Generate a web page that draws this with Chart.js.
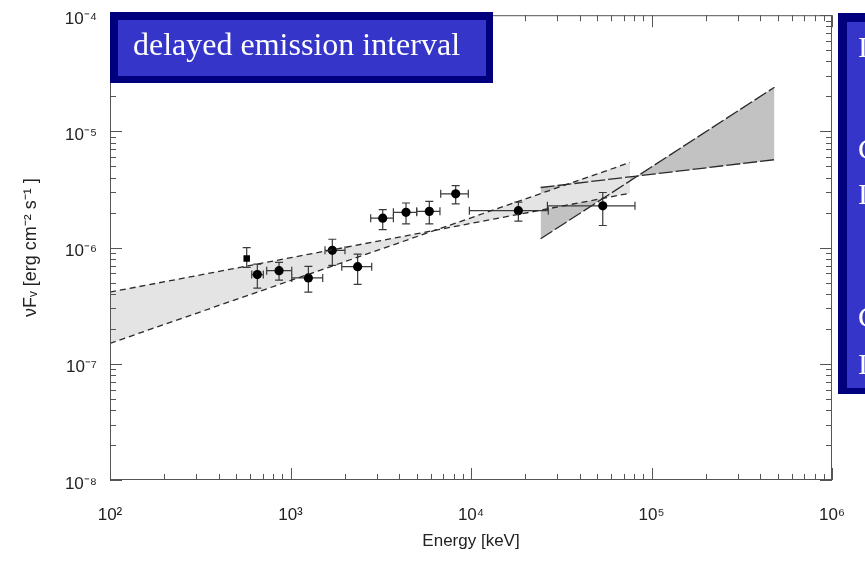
<!DOCTYPE html>
<html><head><meta charset="utf-8">
<script src="https://cdn.jsdelivr.net/npm/chart.js@4.4.0/dist/chart.umd.min.js"></script>
<style>html,body{margin:0;padding:0;background:#fff;overflow:hidden}#wrap{width:865px;height:562px;position:relative}</style>
</head><body><div id="wrap"><canvas id="c" width="865" height="562"></canvas></div>
<script>
// ---- data ----
const energy     = [572, 655, 864, 1256, 1705, 2355, 3243, 4365, 5875, 8225, 18300, 53700];
const energyLow  = [572, 610, 738, 1016, 1553, 1923, 2781, 3715, 5003, 6795, 9794, 26500];
const energyHigh = [572, 707, 1016, 1508, 2004, 2818, 3715, 5003, 6730, 9663, 26800, 81000];
const flux       = [8.05e-7, 5.86e-7, 6.33e-7, 5.48e-7, 9.48e-7, 6.85e-7, 1.79e-6, 2.01e-6, 2.05e-6, 2.90e-6, 2.08e-6, 2.29e-6];
const fluxLow    = [6.76e-7, 4.48e-7, 5.24e-7, 4.14e-7, 7.03e-7, 4.82e-7, 1.43e-6, 1.60e-6, 1.60e-6, 2.38e-6, 1.69e-6, 1.55e-6];
const fluxHigh   = [1.0e-6, 7.21e-7, 7.45e-7, 6.89e-7, 1.18e-6, 8.77e-7, 2.12e-6, 2.42e-6, 2.50e-6, 3.42e-6, 2.46e-6, 2.98e-6];
const pointShapes = ['rect','circle','circle','circle','circle','circle','circle','circle','circle','circle','circle','circle'];

const softBandEnergy = [100, 7.6e4];
const softBandLineA  = [4.14e-7, 2.94e-6];
const softBandLineB  = [1.5e-7, 5.4e-6];
const hardBandEnergy = [2.43e4, 4.8e5];
const hardBandLineA  = [1.19e-6, 2.40e-5];
const hardBandLineB  = [3.29e-6, 5.71e-6];

const xTickValues = [1e2, 1e3, 1e4, 1e5, 1e6];
const xTickLabels = ['10²', '10³', '10⁴', '10⁵', '10⁶'];
const yTickValues = [1e-8, 1e-7, 1e-6, 1e-5, 1e-4];
const yTickLabels = ['10⁻⁸', '10⁻⁷', '10⁻⁶', '10⁻⁵', '10⁻⁴'];
const xTitle = 'Energy [keV]';
const yTitle = 'νFᵥ [erg cm⁻² s⁻¹ ]';
const boxLabel = 'delayed emission interval';
const sideBoxLetters = ['I', 'C', 'I', 'C', 'I'];
const sideBoxBaselines = [57, 159, 204, 327, 374];

// ---- build datasets ----
const toPts = (xs, ys) => xs.map((x, i) => ({x: x, y: ys[i]}));
const datasets = [
  {data: toPts(softBandEnergy, softBandLineA), showLine: true, pointRadius: 0, borderColor: '#2a2a2a', borderWidth: 1.3, borderDash: [6, 4], fill: false},
  {data: toPts(softBandEnergy, softBandLineB), showLine: true, pointRadius: 0, borderColor: '#2a2a2a', borderWidth: 1.3, borderDash: [6, 4], fill: '-1', backgroundColor: '#e4e4e4'},
  {data: toPts(hardBandEnergy, hardBandLineA), showLine: true, pointRadius: 0, borderColor: '#2a2a2a', borderWidth: 1.3, borderDash: [14, 3], fill: false},
  {data: toPts(hardBandEnergy, hardBandLineB), showLine: true, pointRadius: 0, borderColor: '#2a2a2a', borderWidth: 1.3, borderDash: [14, 3], fill: '-1', backgroundColor: '#c2c2c2'},
  {data: toPts(energy, flux), showLine: false, pointStyle: pointShapes, pointRadius: 4.6, pointBackgroundColor: '#000', pointBorderColor: '#000', pointBorderWidth: 0}
];

const errorBars = {
  id: 'errorBars',
  beforeDatasetsDraw(chart) {
    const {ctx, scales: {x, y}} = chart;
    ctx.save();
    ctx.strokeStyle = '#3a3a3a';
    ctx.lineWidth = 1.2;
    const cap = 4;
    energy.forEach((e, i) => {
      const px = x.getPixelForValue(e), py = y.getPixelForValue(flux[i]);
      const yl = y.getPixelForValue(fluxLow[i]), yh = y.getPixelForValue(fluxHigh[i]);
      const xl = x.getPixelForValue(energyLow[i]), xh = x.getPixelForValue(energyHigh[i]);
      ctx.beginPath();
      ctx.moveTo(px, yl); ctx.lineTo(px, yh);
      ctx.moveTo(px - cap, yl); ctx.lineTo(px + cap, yl);
      ctx.moveTo(px - cap, yh); ctx.lineTo(px + cap, yh);
      if (xh - xl > 1) {
        ctx.moveTo(xl, py); ctx.lineTo(xh, py);
        ctx.moveTo(xl, py - cap); ctx.lineTo(xl, py + cap);
        ctx.moveTo(xh, py - cap); ctx.lineTo(xh, py + cap);
      }
      ctx.stroke();
    });
    ctx.restore();
  }
};

const frameAndBoxes = {
  id: 'frameAndBoxes',
  afterDraw(chart) {
    const {ctx, chartArea: a, scales: {x, y}} = chart;
    ctx.save();
    // frame
    ctx.strokeStyle = '#555';
    ctx.lineWidth = 1;
    ctx.strokeRect(a.left + 0.5, a.top + 0.5, a.right - a.left - 1, a.bottom - a.top - 1);
    // inward ticks on all four sides
    ctx.beginPath();
    for (let d = 2; d <= 6; d++) {
      for (let m = 1; m <= 9; m++) {
        const v = m * Math.pow(10, d);
        if (v > 1e6 * 1.0001) continue;
        const px = Math.round(x.getPixelForValue(v)) + 0.5;
        const len = m === 1 ? 12 : 6;
        ctx.moveTo(px, a.bottom); ctx.lineTo(px, a.bottom - len);
        ctx.moveTo(px, a.top); ctx.lineTo(px, a.top + len);
      }
    }
    for (let d = -8; d <= -4; d++) {
      for (let m = 1; m <= 9; m++) {
        const v = m * Math.pow(10, d);
        if (v > 1e-4 * 1.0001) continue;
        const py = Math.round(y.getPixelForValue(v)) + 0.5;
        const len = m === 1 ? 12 : 6;
        ctx.moveTo(a.left, py); ctx.lineTo(a.left + len, py);
        ctx.moveTo(a.right, py); ctx.lineTo(a.right - len, py);
      }
    }
    ctx.stroke();

    // label box (top left)
    ctx.fillStyle = '#00007e';
    ctx.fillRect(110, 12, 383, 71);
    ctx.fillStyle = '#3535c9';
    ctx.fillRect(118, 20, 368, 56);
    ctx.fillStyle = '#ffffff';
    ctx.font = '32px "Liberation Serif", "Times New Roman", serif';
    ctx.textBaseline = 'alphabetic';
    ctx.textAlign = 'left';
    ctx.fillText(boxLabel, 133, 55);

    // side box (cut off at the right edge)
    ctx.fillStyle = '#00007e';
    ctx.fillRect(838, 13, 40, 381);
    ctx.fillStyle = '#3535c9';
    ctx.fillRect(847, 22, 30, 366);
    ctx.fillStyle = '#ffffff';
    ctx.font = '30px "Liberation Serif", "Times New Roman", serif';
    sideBoxLetters.forEach((t, i) => ctx.fillText(t, 858, sideBoxBaselines[i]));
    ctx.restore();
  }
};

const tickFont = {family: '"Liberation Sans", Arial, sans-serif', size: 17};
new Chart(document.getElementById('c'), {
  type: 'scatter',
  data: {datasets: datasets},
  options: {
    responsive: false,
    devicePixelRatio: 1,
    animation: false,
    layout: {padding: {top: 10, right: 33, left: 0, bottom: 0}},
    plugins: {legend: {display: false}, tooltip: {enabled: false}, filler: {drawTime: 'beforeDatasetsDraw'}},
    scales: {
      x: {
        type: 'logarithmic', position: 'bottom', min: 1e2, max: 1e6,
        grid: {display: false}, border: {display: false},
        afterBuildTicks: s => { s.ticks = xTickValues.map(v => ({value: v, major: true})); },
        afterFit: s => { s.height = 82; },
        ticks: {autoSkip: false, maxRotation: 0, padding: 17, color: '#222', font: tickFont,
          callback: v => xTickLabels[Math.round(Math.log10(v)) - 2]},
        title: {display: true, text: xTitle, color: '#222', font: {family: '"Liberation Sans", Arial, sans-serif', size: 17}, padding: {top: 0, bottom: 10}}
      },
      y: {
        type: 'logarithmic', position: 'left', min: 1e-8, max: 1e-4,
        grid: {display: false}, border: {display: false},
        afterBuildTicks: s => { s.ticks = yTickValues.map(v => ({value: v, major: true})); },
        afterFit: s => { s.width = 110; },
        ticks: {autoSkip: false, padding: 5, labelOffset: 4, color: '#222', font: tickFont,
          callback: v => yTickLabels[Math.round(Math.log10(v)) + 8]},
        title: {display: true, text: yTitle, color: '#222', font: {family: '"Liberation Sans", Arial, sans-serif', size: 18}, padding: {top: 20, bottom: 0}}
      }
    }
  },
  plugins: [errorBars, frameAndBoxes]
});
</script>
</body></html>
